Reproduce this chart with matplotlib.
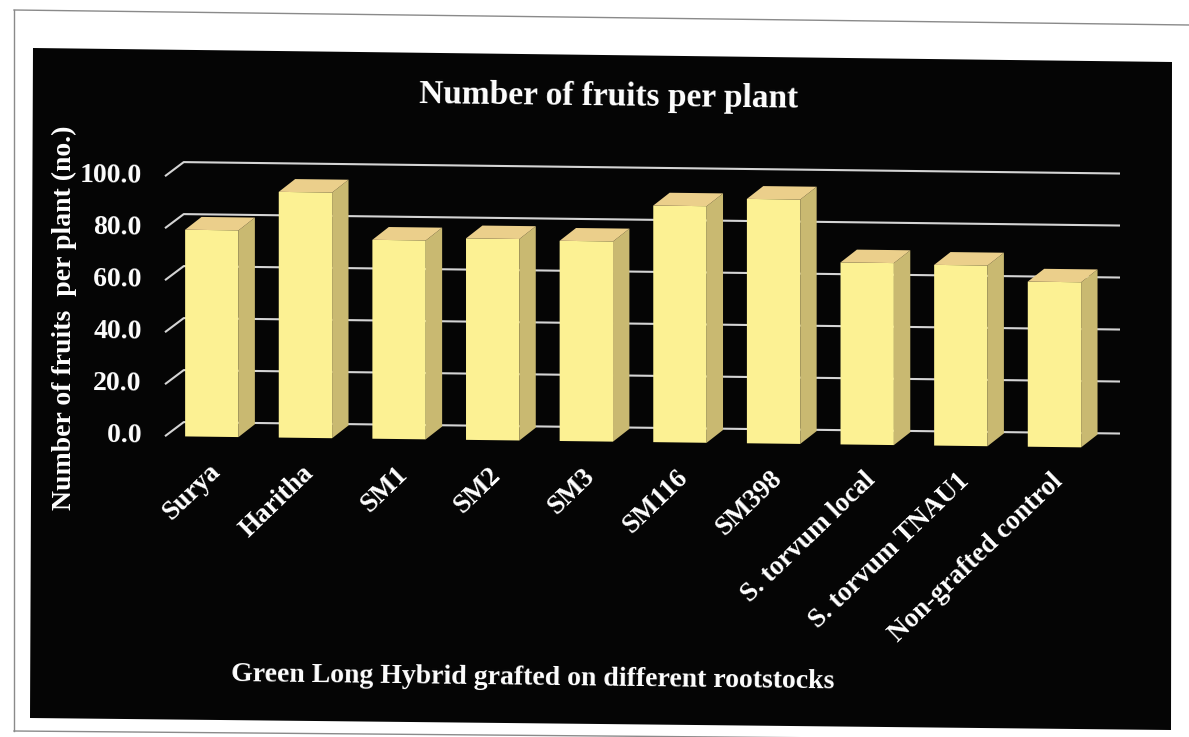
import matplotlib
matplotlib.use('Agg')
import matplotlib.pyplot as plt
from matplotlib.patches import Polygon
from matplotlib.transforms import Affine2D
import numpy as np

plt.rcParams['font.family'] = ['Liberation Serif', 'DejaVu Serif']
plt.rcParams['font.weight'] = 'bold'

# data
rootstocks = ['Surya', 'Haritha', 'SM1', 'SM2', 'SM3', 'SM116', 'SM398',
              'S. torvum local', 'S. torvum TNAU1', 'Non-grafted control']
fruits = [79.5, 94.5, 76.5, 77.5, 77.0, 91.0, 94.0, 70.0, 69.5, 63.5]
y_ticks = [0, 20, 40, 60, 80, 100]
y_ticklabels = ['0.0', '20.0', '40.0', '60.0', '80.0', '100.0']

W, H = 1189, 737
fig = plt.figure(figsize=(W / 100, H / 100), dpi=100)
fig.patch.set_facecolor('white')


def fpt(px, py):
    return (px / W, 1 - py / H)


# the scan is slightly skewed: everything drops a bit to the right
k = 0.0122
cx = 642
shear = Affine2D(np.array([[1, 0, 0], [-k, 1, k * cx], [0, 0, 1]]))

# page frame lines and black chart box
for a, b in [((14, 10), (1189, 25)), ((14, 10), (14, 731)), ((14, 731), (1189, 741))]:
    fig.add_artist(plt.Line2D(*zip(fpt(*a), fpt(*b)), transform=fig.transFigure,
                              color='#8a8a8a', lw=1.0, zorder=-2))
fig.add_artist(Polygon([fpt(33, 48), fpt(1172, 62), fpt(1171, 730), fpt(30, 718)],
                       closed=True, transform=fig.transFigure,
                       facecolor='#050505', edgecolor='none', zorder=-1))

# plot area (front plane), back wall offset to the upper right
ax = fig.add_axes([165 / W, 1 - 442 / H, (1120 - 165) / W, (442 - 167.7) / H])
ax.set_facecolor('none')
for s in ax.spines.values():
    s.set_visible(False)
ax.set_xticks([])
ax.set_yticks([])

x = np.arange(len(rootstocks))
x0, x1 = -0.5, 9.7
ax.set_xlim(x0, x1)
ax.set_ylim(0, 105.5)
tr = ax.transData + shear

wall_dx, wall_dy = 0.2, 5.5
bar_w = 0.57
bar_dx, bar_dy = 0.175, 5.0

front_c = '#fcf193'
side_c = '#c9b971'
top_c = '#ebcf8b'
grid_c = '#d4d4d4'

# gridlines on side wall and back wall
for v in y_ticks:
    ax.plot([x0, x0 + wall_dx, x1], [v, v + wall_dy, v + wall_dy],
            color=grid_c, lw=1.5, zorder=1, clip_on=False,
            solid_capstyle='butt', transform=tr)

# 3d looking columns
bars = ax.bar(x, fruits, width=bar_w, color=front_c, linewidth=0, zorder=3)
for p in bars:
    p.set_transform(tr)
    p.set_clip_on(False)
for xi, v in zip(x, fruits):
    r = xi + bar_w / 2
    l = xi - bar_w / 2
    ax.fill([r, r + bar_dx, r + bar_dx, r], [0, bar_dy, v + bar_dy, v],
            color=side_c, lw=0, zorder=3, clip_on=False, transform=tr)
    ax.fill([l, r, r + bar_dx, l + bar_dx], [v, v, v + bar_dy, v + bar_dy],
            color=top_c, lw=0, zorder=3, clip_on=False, transform=tr)

# tick labels
for v, lab in zip(y_ticks, y_ticklabels):
    ax.text(x0 - 0.246, v, lab, ha='right', va='center', fontsize=20,
            fontweight='bold', color='white', rotation=-0.7,
            transform=tr, clip_on=False)
for xi, lab in zip(x, rootstocks):
    ax.text(xi + 0.05, -12, lab, ha='right', va='center', rotation=44,
            rotation_mode='anchor', fontsize=19.5, fontweight='bold',
            color='white', transform=tr, clip_on=False)

fig.text(609 / W, 1 - 97 / H, 'Number of fruits per plant', ha='center', va='center',
         fontsize=24, fontweight='bold', color='white', rotation=-0.7)
fig.text(64 / W, 1 - 318 / H, 'Number of fruits  per plant (no.)', rotation=90,
         ha='center', va='center', fontsize=20, fontweight='bold', color='white')
fig.text(533 / W, 1 - 678 / H, 'Green Long Hybrid grafted on different rootstocks',
         ha='center', va='center', fontsize=20, fontweight='bold', color='white',
         rotation=-0.7)

fig.savefig('out.png', dpi=100, facecolor=fig.get_facecolor())
